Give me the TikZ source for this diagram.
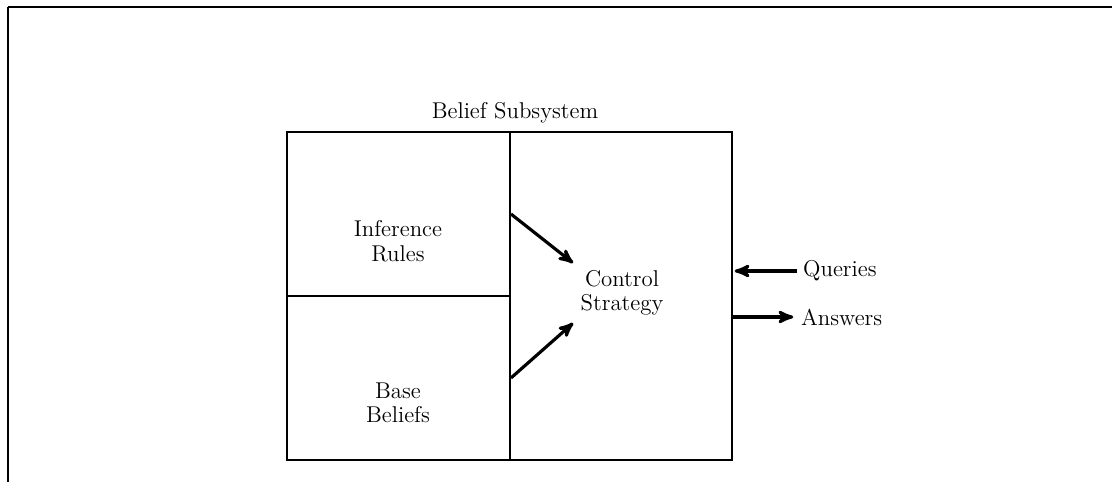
\documentclass[tikz,border=0pt]{standalone}
\usepackage{tikz}
\usetikzlibrary{arrows,positioning}

\begin{document}
\begin{tikzpicture}[x=0.02cm,y=-0.02cm,>=stealth',font=\fontsize{13}{14}\selectfont,
                    part/.style={draw,line width=1.1pt,inner sep=0pt},
                    flow/.style={->,line width=1.8pt,shorten >=1pt}]

  \useasboundingbox (0,0) rectangle (1112,496);
  \draw[line width=1.6pt] (8,7) -- (1112,7);
  \draw[line width=0.6pt] (8,7) -- (8,482);

  \node[part, minimum width=4.46cm, minimum height=3.28cm] (R) at (398.5,214) {};
  \node[part, minimum width=4.46cm, minimum height=3.28cm] (B) at (398.5,378) {};
  \node[part, minimum width=4.44cm, minimum height=6.56cm] (C) at (621,296) {};

  \node (title) at (515,113) {Belief Subsystem};
  \node[align=center] (rules)   at (398,241) {Inference\\Rules};
  \node[align=center] (beliefs) at (398,403) {Base\\Beliefs};
  \node[align=center] (ctl)     at (622,293) {Control\\Strategy};

  \node[anchor=west] (Q) at (797,271) {Queries};
  \node[anchor=west] (A) at (795,317) {Answers};

  \draw[flow] (R.east) -- (ctl.north west);
  \draw[flow] (B.east) -- (ctl.south west);
  \draw[flow] (Q.west) -- (Q.west -| C.east);
  \draw[flow] (A.west -| C.east) -- (A.west);

\end{tikzpicture}
\end{document}
